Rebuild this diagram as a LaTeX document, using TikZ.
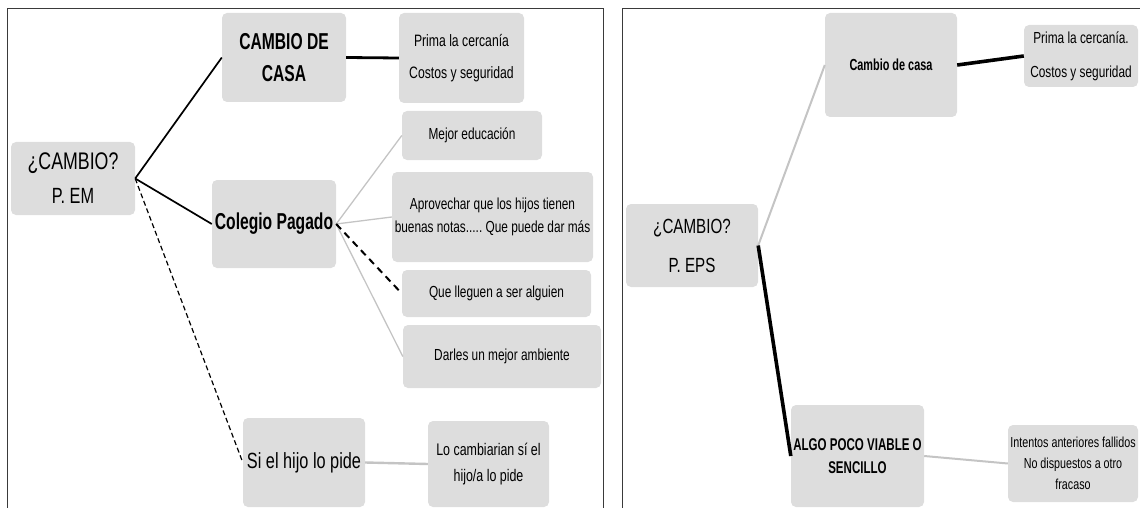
\documentclass[tikz,border=0pt]{standalone}
\usepackage{fontspec}
\setmainfont{Liberation Sans}
\newfontfamily\estrecha[FakeStretch=0.74, BoldFeatures={FakeStretch=0.68}]{Liberation Sans}
\newcommand\letra[2]{\estrecha\fontsize{#1}{#2}\selectfont}
\frenchspacing

\definecolor{fondocaja}{HTML}{DDDDDD}
\definecolor{lineagris}{HTML}{C4C4C4}
\definecolor{marco}{HTML}{3A3A3A}

\begin{document}
\begin{tikzpicture}[
    x=1pt,
    y=-1pt,
    caja/.style={fill=fondocaja, rounded corners=5pt, inner sep=0pt, align=center, text=black},
    rama/.style={draw=black, line width=1.7pt},
    ramagruesa/.style={draw=black, line width=3.6pt},
    ramagris/.style={draw=lineagris, line width=1.3pt},
    ramapunteada/.style={draw=black, line width=1.2pt, dash pattern=on 5pt off 3pt},
    borde/.style={draw=marco, line width=1pt}
]
\useasboundingbox (0,0) rectangle (1140,508);

% Marcos de los dos paneles
\draw[borde] (7,510) |- (603,9) -- (603,510);
\draw[borde] (622,510) |- (1142,9);

% Panel izquierdo: P. EM
\node[caja, minimum width=124pt, minimum height=73pt, font=\letra{24}{34}]
    (raiz) at (73,178.5) {¿CAMBIO?\\\fontsize{22}{34}\selectfont P. EM};
\node[caja, minimum width=124pt, minimum height=89pt, font=\letra{23}{32}\bfseries]
    (cambio) at (284,57.5) {CAMBIO DE\\CASA};
\node[caja, minimum width=125pt, minimum height=90pt, font=\letra{16.5}{32}]
    (prima) at (461.5,58) {Prima la cercanía\\Costos y seguridad};
\node[caja, minimum width=124pt, minimum height=88pt, font=\letra{23}{30}\bfseries]
    (colegio) at (274,224) {Colegio Pagado};
\node[caja, minimum width=140pt, minimum height=49pt, font=\letra{16}{23}]
    (mejor) at (472,135.5) {Mejor educación};
\node[caja, minimum width=201pt, minimum height=90pt, font=\letra{16}{23}]
    (aprovechar) at (492.5,217) {Aprovechar que los hijos tienen\\buenas notas..... Que puede dar más};
\node[caja, minimum width=189pt, minimum height=47pt, font=\letra{16}{23}]
    (lleguen) at (496.5,293.5) {Que lleguen a ser alguien};
\node[caja, minimum width=198pt, minimum height=63pt, font=\letra{16}{23}]
    (darles) at (502,356.5) {Darles un mejor ambiente};
\node[caja, minimum width=122pt, minimum height=89pt, font=\letra{22}{30}]
    (sihijo) at (304,462.5) {Si el hijo lo pide};
\node[caja, minimum width=121pt, minimum height=86pt, font=\letra{16.8}{26}]
    (locambiarian) at (488.5,464) {Lo cambiarian sí el\\hijo/a lo pide};

\draw[rama] (raiz.east) -- (cambio.west);
\draw[rama] (raiz.east) -- (colegio.west);
\draw[ramapunteada] (raiz.east) -- (sihijo.west);
\draw[ramagruesa, line width=2.8pt] (cambio.east) -- (prima.west);
\foreach \hijo in {mejor, aprovechar, darles}
    \draw[ramagris] (colegio.east) -- (\hijo.west);
\draw[ramapunteada, line width=2pt, dash pattern=on 7pt off 5pt] (colegio.east) -- (lleguen.west);
\draw[ramagris, line width=2.4pt] (sihijo.east) -- (locambiarian.west);

% Panel derecho: P. EPS
\node[caja, minimum width=132pt, minimum height=83pt, font=\letra{20.5}{39}]
    (raizeps) at (692,245.5) {¿CAMBIO?\\P. EPS};
\node[caja, minimum width=132pt, minimum height=104pt, font=\letra{16}{23}\bfseries]
    (cambioeps) at (891,65) {Cambio de casa};
\node[caja, minimum width=114pt, minimum height=62pt, font=\letra{16}{34}]
    (primaeps) at (1081,56) {Prima la cercanía.\\Costos y seguridad};
\node[caja, minimum width=133pt, minimum height=102pt, font=\letra{17}{23}\bfseries]
    (algo) at (857.5,456) {ALGO POCO VIABLE O\\SENCILLO};
\node[caja, minimum width=130pt, minimum height=77pt, font=\letra{14.5}{21}]
    (intentos) at (1073,463.5) {Intentos anteriores fallidos\\No dispuestos a otro\\fracaso};

\draw[ramagris, line width=2pt] (raizeps.east) -- (cambioeps.west);
\draw[ramagruesa] (raizeps.east) -- (algo.west);
\draw[ramagruesa] (cambioeps.east) -- (primaeps.west);
\draw[ramagris, line width=2pt] (algo.east) -- (intentos.west);

\end{tikzpicture}
\end{document}
